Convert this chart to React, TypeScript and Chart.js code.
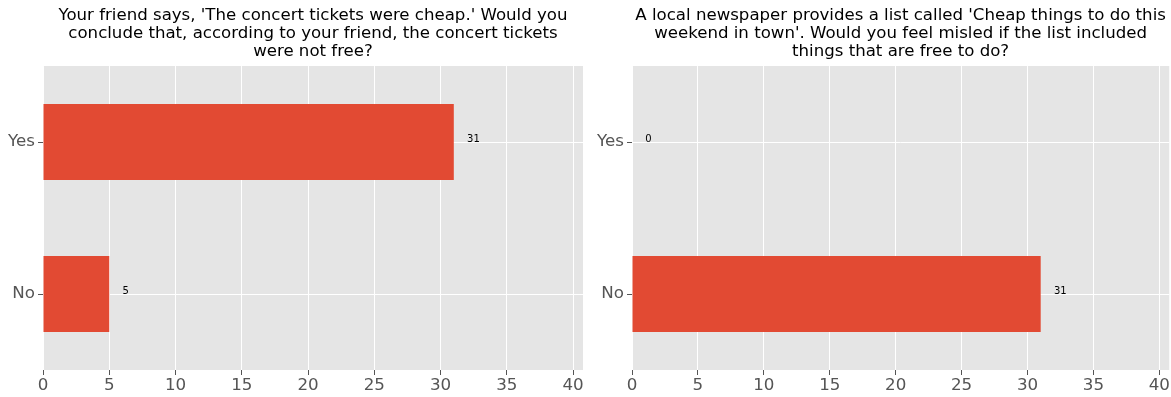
import React, { useEffect, useRef } from "react";
import { Chart, registerables } from "chart.js";

Chart.register(...registerables);

const categories = ["Yes", "No"];
const leftValues = [31, 5];
const rightValues = [0, 31];
const leftTitle = [
  "Your friend says, 'The concert tickets were cheap.' Would you",
  "conclude that, according to your friend, the concert tickets",
  "were not free?",
];
const rightTitle = [
  "A local newspaper provides a list called 'Cheap things to do this",
  "weekend in town'. Would you feel misled if the list included",
  "things that are free to do?",
];
const xMin = 0;
const xMax = 40.75;
const xStep = 5;
const labelOffset = 1;

const FONT = "'DejaVu Sans', sans-serif";

const bgPlugin = {
  id: "panelBg",
  beforeDraw(chart: any) {
    const { ctx, chartArea } = chart;
    ctx.save();
    ctx.fillStyle = "#E5E5E5";
    ctx.fillRect(chartArea.left, chartArea.top, chartArea.right - chartArea.left, chartArea.bottom - chartArea.top);
    ctx.restore();
  },
};

const valueLabelPlugin = {
  id: "valueLabels",
  afterDatasetsDraw(chart: any) {
    const { ctx } = chart;
    const xs = chart.scales.x;
    const ys = chart.scales.y;
    const data = chart.data.datasets[0].data as number[];
    ctx.save();
    ctx.font = `10px ${FONT}`;
    ctx.fillStyle = "#000";
    ctx.textAlign = "left";
    ctx.textBaseline = "alphabetic";
    data.forEach((v, i) => {
      ctx.fillText(String(v), xs.getPixelForValue(v + labelOffset), ys.getPixelForValue(i));
    });
    ctx.restore();
  },
};

function Panel({ values, title, width, padRight, yWidth }: { values: number[]; title: string[]; width: number; padRight: number; yWidth: number }) {
  const ref = useRef<HTMLCanvasElement>(null);
  useEffect(() => {
    if (!ref.current) return;
    const chart = new Chart(ref.current, {
      type: "bar",
      data: {
        labels: categories,
        datasets: [
          {
            data: values,
            backgroundColor: "#E24A33",
            borderWidth: 0,
            categoryPercentage: 0.5,
            barPercentage: 1,
          },
        ],
      },
      options: {
        indexAxis: "y",
        animation: false,
        responsive: false,
        devicePixelRatio: 1,
        layout: { padding: { left: 0, right: padRight, top: 0, bottom: 0 } },
        plugins: {
          legend: { display: false },
          tooltip: { enabled: false },
          title: {
            display: true,
            text: title,
            fullSize: false,
            color: "#000",
            font: { family: FONT, size: 16.6, weight: "normal", lineHeight: 1.085 },
            padding: { top: 7, bottom: 5 },
          },
        },
        scales: {
          x: {
            type: "linear",
            min: xMin,
            max: xMax,
            afterFit: (s: any) => {
              s.height = 27;
            },
            ticks: {
              stepSize: xStep,
              includeBounds: false,
              color: "#555555",
              padding: 1,
              font: { family: FONT, size: 16.7 },
              maxRotation: 0,
            },
            grid: { color: "#FFFFFF", lineWidth: 1, tickColor: "#555555", tickLength: 5, drawTicks: true },
            border: { display: false },
          },
          y: {
            type: "category",
            offset: true,
            afterFit: (s: any) => {
              s.width = yWidth;
            },
            ticks: {
              color: "#555555",
              padding: 3,
              font: { family: FONT, size: 16.7 },
            },
            grid: { color: "#FFFFFF", lineWidth: 1, offset: false, tickColor: "#555555", tickLength: 5, drawTicks: true },
            border: { display: false },
          },
        },
      },
      plugins: [bgPlugin, valueLabelPlugin],
    } as any);
    return () => chart.destroy();
  }, []);
  return <canvas ref={ref} width={width} height={397} style={{ display: "block", width, height: 397 }} />;
}

export default function App() {
  return (
    <div style={{ position: "absolute", left: 0, top: 0, width: 1171, height: 397, background: "#fff", display: "flex" }}>
      <Panel values={leftValues} title={leftTitle} width={590} padRight={7} yWidth={43} />
      <Panel values={rightValues} title={rightTitle} width={581} padRight={1} yWidth={42} />
    </div>
  );
}
